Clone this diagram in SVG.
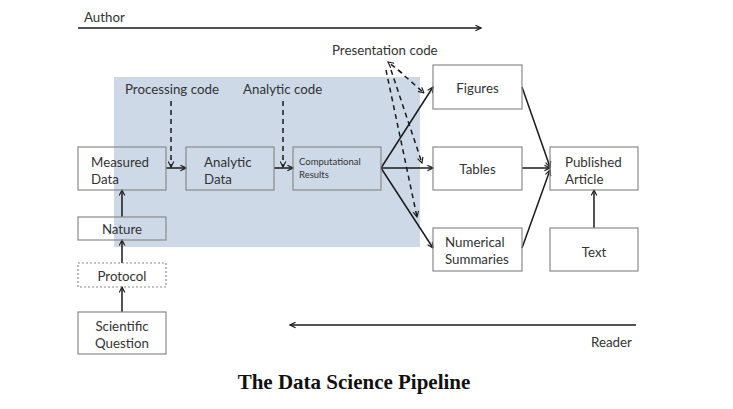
<svg xmlns="http://www.w3.org/2000/svg" width="733" height="409" viewBox="0 0 733 409">
<defs>
<marker id="ah" viewBox="0 0 10 10" refX="9" refY="5" markerWidth="7" markerHeight="7" markerUnits="userSpaceOnUse" orient="auto">
<path d="M1,1 L9,5 L1,9" fill="none" stroke="#1a1a1a" stroke-width="1.6"/>
</marker>
</defs>
<style>
.box{fill:none;stroke:#8a8a8a;stroke-width:1.2}
.dbox{fill:none;stroke:#8a8a8a;stroke-width:1.2;stroke-dasharray:2 2}
.t{font-family:Lato,"Open Sans",sans-serif;font-size:13.3px;fill:#333}
.ts{font-family:Lato,"Open Sans",sans-serif;font-size:9.5px;fill:#333}
.c{fill:none;stroke:#1a1a1a;stroke-width:1.5;marker-end:url(#ah)}
.d{fill:none;stroke:#1a1a1a;stroke-width:1.5;stroke-dasharray:5 4;marker-end:url(#ah)}
</style>
<rect width="733" height="409" fill="#fff"/>
<rect id="shade" x="114" y="77" width="306" height="170" fill="#cdd9e7"/>
<text class="t" x="84" y="22">Author</text>
<text class="t" x="332" y="55">Presentation code</text>
<text class="t" x="125" y="94">Processing code</text>
<text class="t" x="243" y="94">Analytic code</text>
<text class="t" x="591" y="347">Reader</text>
<g id="connectors">
<path class="c" d="M78,28 H481"/>
<path class="c" d="M636,325 H290"/>
<path class="d" d="M171,101 V167"/>
<path class="d" d="M283,101 V167"/>
<path class="c" d="M166,168 H186"/>
<path class="c" d="M274,168 H293"/>
<path class="c" d="M381,168 L433,87"/>
<path class="c" d="M381,168 H433"/>
<path class="c" d="M381,168 L433,248"/>
<path class="d" d="M402,73 L388,62"/>
<path class="d" d="M398,70 L424,93"/>
<path class="d" d="M391,70 L422,163"/>
<path class="d" d="M386,70 L417,217"/>
<path class="c" d="M522,87 L550,167"/>
<path class="c" d="M522,168 H550"/>
<path class="c" d="M522,248 L550,170"/>
<path class="c" d="M594,228 V190"/>
<path class="c" d="M122,217 V190"/>
<path class="c" d="M122,263 V240"/>
<path class="c" d="M122,312 V287"/>
</g>
<g id="measured"><rect class="box" x="78" y="147" width="88" height="43"/><text class="t" x="91" y="167">Measured</text><text class="t" x="91" y="184">Data</text></g>
<g id="analytic"><rect class="box" x="186" y="147" width="88" height="43"/><text class="t" x="204" y="167">Analytic</text><text class="t" x="204" y="184">Data</text></g>
<g id="computational"><rect class="box" x="293" y="147" width="88" height="43"/><text class="ts" x="299" y="165">Computational</text><text class="ts" x="299" y="178">Results</text></g>
<g id="figures"><rect class="box" x="433" y="65" width="89" height="44"/><text class="t" x="477.5" y="93" text-anchor="middle">Figures</text></g>
<g id="tables"><rect class="box" x="433" y="147" width="89" height="43"/><text class="t" x="477.5" y="174" text-anchor="middle">Tables</text></g>
<g id="numerical"><rect class="box" x="433" y="228" width="89" height="43"/><text class="t" x="445" y="247">Numerical</text><text class="t" x="445" y="264">Summaries</text></g>
<g id="published"><rect class="box" x="550" y="147" width="88" height="43"/><text class="t" x="565" y="167">Published</text><text class="t" x="565" y="184">Article</text></g>
<g id="text"><rect class="box" x="550" y="228" width="88" height="43"/><text class="t" x="594" y="257" text-anchor="middle">Text</text></g>
<g id="nature"><rect class="box" x="78" y="217" width="88" height="23"/><text class="t" x="122" y="234" text-anchor="middle">Nature</text></g>
<g id="protocol"><rect class="dbox" x="78" y="263" width="88" height="24"/><text class="t" x="122" y="281" text-anchor="middle">Protocol</text></g>
<g id="question"><rect class="box" x="78" y="312" width="88" height="42"/><text class="t" x="122" y="331" text-anchor="middle">Scientific</text><text class="t" x="122" y="348" text-anchor="middle">Question</text></g>
<text x="354" y="389" text-anchor="middle" style="font-family:'Liberation Serif',serif;font-weight:bold;font-size:21px;fill:#111">The Data Science Pipeline</text>
</svg>
